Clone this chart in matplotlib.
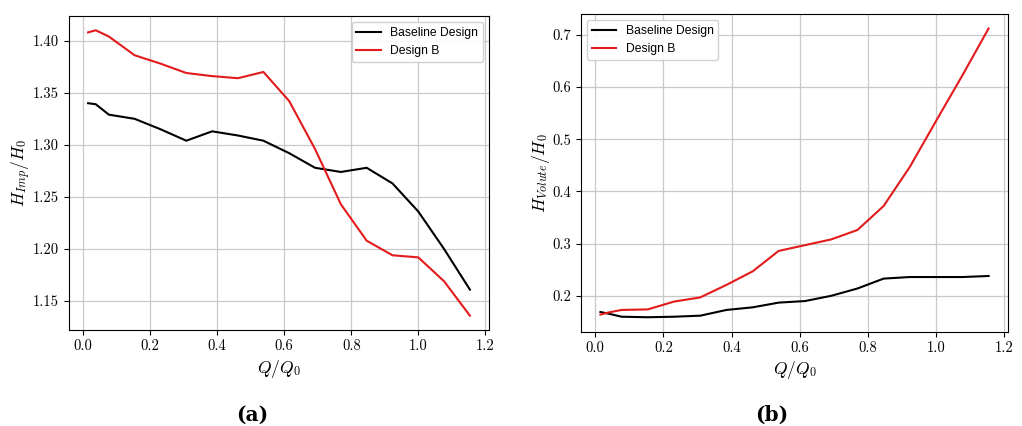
import matplotlib
matplotlib.use('Agg')
import matplotlib.pyplot as plt

plt.rcParams['mathtext.fontset'] = 'cm'

# flow ratio Q/Q0 at the operating points
q_ratio = [0.015, 0.038, 0.077, 0.154, 0.231, 0.308, 0.385, 0.462, 0.538,
           0.615, 0.692, 0.769, 0.846, 0.923, 1.0, 1.077, 1.154]

# impeller head ratio
imp_baseline = [1.340, 1.339, 1.329, 1.325, 1.315, 1.304, 1.313, 1.309, 1.304,
                1.292, 1.278, 1.274, 1.278, 1.263, 1.236, 1.200, 1.161]
imp_design_b = [1.408, 1.410, 1.404, 1.386, 1.378, 1.369, 1.366, 1.364, 1.370,
                1.342, 1.296, 1.243, 1.208, 1.194, 1.192, 1.169, 1.136]

# volute head ratio
vol_baseline = [0.169, 0.166, 0.160, 0.159, 0.160, 0.162, 0.173, 0.178, 0.187,
                0.190, 0.200, 0.214, 0.233, 0.236, 0.236, 0.236, 0.238]
vol_design_b = [0.164, 0.168, 0.173, 0.174, 0.189, 0.197, 0.221, 0.247, 0.286,
                0.297, 0.308, 0.326, 0.372, 0.447, 0.535, 0.622, 0.712]

xticks = [0.0, 0.2, 0.4, 0.6, 0.8, 1.0, 1.2]

fig = plt.figure(figsize=(10.22, 4.26), dpi=100)
ax_a = fig.add_axes([0.0675, 0.2254, 0.411, 0.737])
ax_b = fig.add_axes([0.5685, 0.2214, 0.4178, 0.7457])

panels = [
    (ax_a, imp_baseline, imp_design_b, r'$H_{Imp}/H_0$', 'upper right', '{:.2f}'),
    (ax_b, vol_baseline, vol_design_b, r'$H_{Volute}/H_0$', 'upper left', '{:.1f}'),
]

for ax, base, desb, ylab, loc, fmt in panels:
    ax.plot(q_ratio, base, color='black', lw=1.5, label='Baseline Design')
    ax.plot(q_ratio, desb, color='#e31a1c', lw=1.5, label='Design B')
    ax.grid(True, color='#c8c8c8', lw=0.9)
    ax.set_axisbelow(True)
    ax.set_xticks(xticks)
    ax.set_xticklabels(['{:.1f}'.format(t) for t in xticks])
    yt = ax.get_yticks()
    lo, hi = ax.get_ylim()
    yt = [t for t in yt if lo <= t <= hi]
    ax.set_yticks(yt)
    ax.set_yticklabels([fmt.format(t) for t in yt])
    for lbl in ax.get_xticklabels() + ax.get_yticklabels():
        lbl.set_fontfamily('cmr10')
        lbl.set_fontsize(10.5)
    ax.set_xlabel(r'$Q/Q_0$', fontsize=12.5, labelpad=3)
    ax.set_ylabel(ylab, fontsize=12.5, labelpad=0)
    ax.legend(loc=loc, prop={'family': 'Liberation Sans', 'size': 8.7},
              handlelength=2.0, framealpha=0.9)

for x, tag in [(0.247, '(a)'), (0.755, '(b)')]:
    fig.text(x, 0.012, tag, ha='center', va='baseline', fontsize=14.5,
             family='DejaVu Serif', weight='bold')

fig.savefig('out.png', dpi=100)
